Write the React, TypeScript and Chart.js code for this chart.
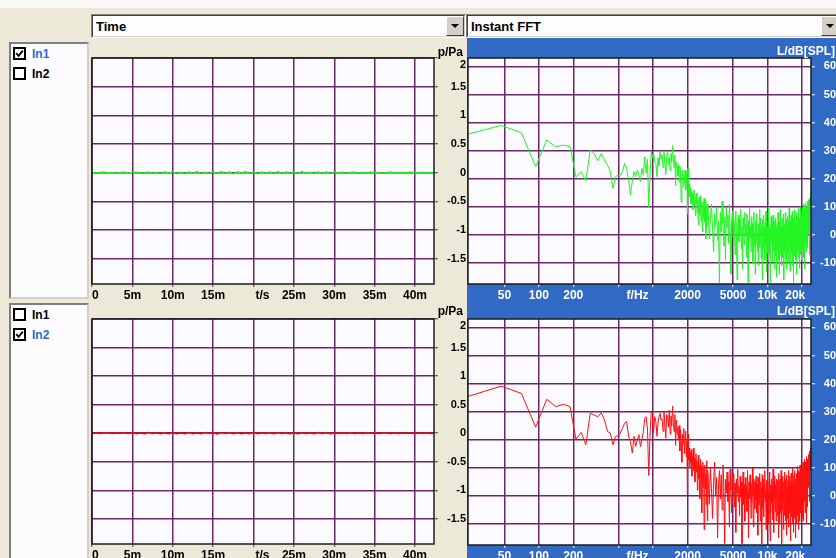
import React, { useEffect, useRef } from 'react';
import { Chart, registerables } from 'chart.js';

Chart.register(...registerables);

// ---------------- data ----------------
const TIME_STEP_S = 0.0005;
const IN1_TIME_PA = [
  0.004, -0.006, 0.003, 0.008, -0.002, 0.005, -0.007, 0.002, 0.006, -0.004,
  0.003, 0.007, -0.005, 0.001, 0.009, -0.008, 0.004, -0.012, 0.011, -0.006,
  0.014, -0.013, 0.009, -0.015, 0.012, -0.01, 0.016, -0.011, 0.008, -0.014,
  0.013, -0.009, 0.015, -0.012, 0.01, -0.016, 0.011, -0.008, 0.014, -0.013,
  0.009, -0.015, 0.012, -0.01, 0.013, -0.011, 0.016, -0.009, 0.01, -0.014,
  0.012, -0.012, 0.015, -0.01, 0.009, -0.013, 0.011, -0.008, 0.014, -0.011,
  0.007, -0.005, 0.006, -0.009, 0.004, 0.008, -0.006, 0.003, -0.004, 0.007,
  -0.002, 0.005, -0.007, 0.002, 0.006, -0.003, 0.004, -0.005, 0.003, 0.006,
  -0.004, 0.002, 0.005, -0.003, 0.004, -0.002,
];
const IN2_TIME_PA = [
  -0.003, 0.005, -0.004, 0.007, 0.002, -0.006, 0.004, -0.002, 0.006, -0.005,
  0.008, -0.007, 0.005, -0.009, 0.01, -0.006, 0.007, -0.011, 0.009, -0.008,
  0.006, -0.01, 0.008, -0.007, 0.011, -0.009, 0.005, -0.008, 0.01, -0.006,
  0.009, -0.012, 0.007, -0.005, 0.01, -0.008, 0.006, -0.01, 0.008, -0.007,
  0.011, -0.009, 0.006, -0.005, 0.009, -0.011, 0.007, -0.006, 0.008, -0.01,
  0.005, -0.007, 0.009, -0.004, 0.006, -0.008, 0.01, -0.005, 0.007, -0.009,
  0.004, -0.006, 0.005, -0.003, 0.007, -0.005, 0.003, -0.004, 0.006, -0.002,
  0.004, -0.005, 0.002, 0.005, -0.003, 0.004, -0.006, 0.003, -0.002, 0.005,
  -0.004, 0.003, -0.002, 0.004, -0.003, 0.002,
];

const FFT_BIN_HZ = 23.4375;
const FFT_HIGH_FIRST_BIN = 129;
const FFT_HIGH_BIN_STEP = 3;

const IN1_FFT_LOW_DB = [
  35.8, 39.0, 36.4, 24.3, 33.8, 31.4, 32.0, 31.4, 20.7, 22.5,
  19.3, 30.2, 29.0, 26.4, 29.0, 26.7, 24.9, 22.5, 16.6, 20.7,
  21.3, 21.3, 22.5, 25.5, 23.7, 19.5, 14.2, 19.0, 22.5, 20.7,
  23.1, 21.3, 19.0, 23.7, 21.3, 27.8, 22.0, 27.0, 10.0, 20.7,
  29.6, 27.6, 29.0, 26.1, 25.5, 20.7, 27.5, 24.5, 29.5, 27.0,
  28.5, 24, 29.5, 26, 21.5, 28, 29.8, 25, 27.5, 23,
  29, 26, 31.8, 27, 24, 28.5, 17.5, 26, 24.5, 21,
  25, 19, 24.4, 22, 11.6, 20, 23, 17, 21.5, 18.5,
  23, 16, 20.5, 22.8, 7.5, 23.7, 15, 18, 13.5, 16.5,
  11, 15.5, 12, 14.8, 9, 13, 16, 10.5, 12.5, 6.8,
  14.5, 11, 15, 8, 12.5, 3.5, 10, 13.5, 7, 11,
  14, 5, 9.5, 12, 1, 8.5, 11.5, 6, 13, 4.5,
  9, 12.2, -1.4, 7, 10.5, 3, 8, 11,
];
const IN1_FFT_HIGH_DB = [
  9, -1.5, 6, 11, 2, -6, 7.5, 3, 10, -2,
  5, -17, 8, 1, 12, 4, -4, 6.5, -9, 9.5,
  2.5, 7, -3, 11, 0.5, -14, 5, 8.5,
  -1, 6, 3.5, -7, 8.5, 1, -16, 4.5, 7, -2.5,
  5.5, 0, 9, -5, 3, -12, 6, 2, -3.5, 8,
  -0.5, 4, -8, 7.5, 1.5, -17, 5, -2, 9.5, 0.5,
  3, -6, 6.5, -1.5, 4, -10, 2.5, 8, -4, 1, -14,
  5, -3, 2, 7.5, -6, 0.5, -11, 4, -1, 9,
  -4.5, 1.5, 6, -8, 3, -2, -16, 5.5, 0, -5,
  7, -1, 2.5, -9, 4.5, -3.5, 8.5, -0.5, -13, 3,
  1, -6.5, 5, -2.5, 10, -7, 0.5, 3.5, -17, 2,
  -4, 6.5, -1.5, 1, -9.5, 4, -3, 7, -6, 0,
  3, -12, 5, -2, 1.5, -7.5, 6, -1, -15, 2.5,
  -3, 4, -6, 1, 8, -9, -1.5, 3.5, -14, 0.5,
  5, -4, 2, -7, 9, -2, -0.5, -11, 3, -5.5,
  6, -1, -8, 2.5, -3, 7.5, -16, 0, 4, -6,
  1.5, -2.5, 8, -9, 3, -4.5, 0.5, 5.5, -12, -1,
  2, -7, 6.5, -3.5, 1, -10, 4.5, -0.5, 9.5, -5,
  -2, 3, -13, 5, -1.5, 0.5, -8, 7, -3, 2,
  -6.5, 4, -0.5, 8.5, -11, 1.5, -4, 6, -2, -17,
  3.5, -1, 5, -7.5, 2, 9, -3, 0, -9, 4,
  -2.5, 6.5, 1, -5, 8, -14, 3, -1.5, 5.5, -6,
  2.5, 7, -3.5, 0.5, 9.5, -8, 4, -2, 6, -12,
  1, 5.5, -4, 8, 0, -7, 3, 10, -2.5, 4.5,
  -9, 6, 1.5, 8.5, -5,
  3, 9.5, -4, 6, 1, 11, -8, 5, 2.5, 8,
  -2, 7, 10.5, 0, 4.5, -12, 9, 3, 6.5, -3,
  11.5, 5, 1.5, 8, -6, 10, 4, 7.5, -1, 12,
  6, 2, 9.5, -4.5, 11, 5.5, 8, 0.5, 12.5, 7,
  3.5, 10, -7, 9, 13, 6, 11, 2, 12, 8.5,
  14, 9, 15.5, 11, 16,
];

const IN2_FFT_LOW_DB = [
  35.3, 39.1, 36.5, 24.5, 34.4, 31.8, 32.6, 31.8, 20.2, 22.6,
  18.2, 29.4, 28.8, 28.2, 29.6, 27.0, 22.9, 22.4, 18.2, 21.2,
  21.4, 22.4, 24.1, 25.9, 26.5, 21.2, 19.4, 15.3, 21.2, 17.6,
  20.0, 21.8, 17.6, 20.0, 22.9, 27.6, 28.2, 24.1, 7.3, 21.2,
  30.0, 29.4, 22.4, 28.2, 26.5, 21.2, 25.9, 28.2, 29.4, 27.0,
  27.5, 23, 30, 25.5, 20.5, 29, 28, 24.5, 30.5, 22,
  28.5, 25, 32, 26, 23, 29, 18, 27, 22, 24.5,
  20, 25, 16, 23.5, 19, 12, 22, 18.5, 24, 15,
  21, 23, 14, 19.5, 1, 22, 13, 17, 10, 15.5,
  12, 16.5, 7, 14, 11, 17, 9, 13.5, 5, 12,
  15, 8.5, 12.5, 2, 10, 14.5, 6, 11, -1, 9,
  13, 4, 10.5, -6, 8, 12, 3, 9.5, -12, 6,
  11, 2.5, 8, -3, 12.5, 5, -9, 9,
];
const IN2_FFT_HIGH_DB = [
  7, -3, 10, 2.5, -8, 5, 12, 0, 6.5, -15,
  4, 9, -1, 7.5, -5, 11, 3, -17, 6, 1,
  8.5, -2, 5, -11, 9.5, 2, -6, 7,
  0.5, 8, -4, 4.5, -13, 6, 1, 9.5, -2, 3.5,
  -7, 7, -0.5, 5, -17, 2, 8.5, -3, 4, -9,
  6.5, 0, 3, -5.5, 9, 1.5, -15, 5, -1, 7.5,
  2, -8, 4.5, -2.5, 10, 0, -11, 6, 3, -4.5, 5,
  -1, 7, 2.5, -6, 4, -14, 6.5, 0.5, -3, 8,
  1, -9, 5, -1.5, 3, -17, 7.5, -4, 2, 6,
  -7.5, 4, -0.5, 9, -2, 1.5, -12, 5.5, -5, 3,
  0, 7, -3.5, 2, -10, 5, 8.5, -1, -16, 4,
  -6, 1, 6, -2.5, 3.5, -8.5, 0.5, 9.5, -4, 2,
  -13, 5, -1, 7, -5.5, 1.5, 4, -9, 6, -0.5,
  3, -7, 5.5, -2, 0.5, -15, 4, 8, -4, 1.5,
  -10, 6, -1, 3.5, -6, 9, -3, 2, -17, 4.5,
  0, -5, 7, -2.5, 1, -12, 5, -0.5, 8.5, -7,
  2.5, -3, 6, -9, 0, 4, -1.5, -14, 7.5, 1,
  -4.5, 3, -8, 5.5, 0.5, 9, -2, -11, 4, -6,
  1.5, 7, -3.5, 2, -16, 5, -1, 8, -7.5, 3,
  0, -4, 6.5, -9.5, 2.5, 10, -2, 4.5, -13, 1,
  -5, 7.5, 0.5, 3, -8, 9, -1.5, 5, -3, -15,
  6, 1, -6.5, 8, 2, -10, 4, 10.5, -2.5, 6.5,
  -7, 3.5, 9, -1, 5, -12, 7, 1.5, -4, 8.5,
  2, -9, 11, 4, -3, 6, 9.5, -6, 3, 7,
  -1, 10, 5.5, -8, 8,
  4, 10, -3, 7, 12, 1, 8.5, -9, 6, 11,
  3, 9, -2, 13, 5.5, 8, -6, 10.5, 4, 12,
  7, -1, 11, 6, 14, 2, 9, -10, 12.5, 8,
  5, 13, 10, -4, 11.5, 7, 14.5, 3, 12, 9.5,
  6, 15, 10, -2, 13, 8, 16, 11, 14, 9,
  15.5, 12, 17, 13, 15,
];

// axis ticks / labels
const TIME_MIN_S = 0;
const TIME_MAX_S = 0.04235;
const TIME_TICKS = [0, 0.005, 0.01, 0.015, 0.02, 0.0211, 0.025, 0.03, 0.035, 0.04];
const TIME_TICK_LABELS = ['  0', '5m', '10m', '15m', '', 't/s', '25m', '30m', '35m', '40m'];
const PA_MIN = -1.94;
const PA_MAX = 2;
const PA_TICKS = [-1.5, -1, -0.5, 0, 0.5, 1, 1.5, 2];
const PA_TICK_LABELS: any[] = ['-1.5', '-1', '-0.5', '0', '0.5', '1', '1.5', ['', '2']];
const FREQ_MIN_HZ = 24;
const FREQ_MAX_HZ = 24000;
const FREQ_TICKS = [50, 100, 200, 500, 730, 1000, 2000, 5000, 10000, 20000];
const FREQ_TICK_LABELS = ['50', '100', '200', '', 'f/Hz', '', '2000', '5000', '10k', '20k    '];
const DB_MIN = -17.5;
const DB_MAX = 63;
const DB_TICKS = [-10, 0, 10, 20, 30, 40, 50, 60];
const DB_TICK_LABELS = ['-10', '0', '10', '20', '30', '40', '50', '60'];
const LABEL_ONLY_TICKS = [0.0211, 730];

// ---------------- styling ----------------
const FONT_FAMILY = '"Liberation Sans", Arial, sans-serif';
const BEIGE = '#ECE9D8';
const BLUE = '#316AC5';
const PLOT_BG = '#FAFAFF';
const GRID_COLOR = '#6A2668';
const FRAME_COLOR = '#1C1C1C';

const plotFramePlugin = {
  id: 'plotFrame',
  beforeDraw(chart: any) {
    const { ctx, chartArea: a } = chart;
    ctx.save();
    ctx.fillStyle = PLOT_BG;
    ctx.fillRect(a.left, a.top, a.right - a.left, a.bottom - a.top);
    ctx.restore();
  },
  afterDraw(chart: any) {
    const { ctx, chartArea: a } = chart;
    ctx.save();
    ctx.strokeStyle = FRAME_COLOR;
    ctx.lineWidth = 1.5;
    ctx.strokeRect(a.left, a.top, a.right - a.left, a.bottom - a.top);
    ctx.restore();
  },
};

const fixedTicks = (values: number[]) => (scale: any) => {
  scale.ticks = values.map((v) => ({ value: v }));
};
const fixSize = (prop: string, size: number) => (scale: any) => {
  scale[prop] = size;
  scale.paddingLeft = 0;
  scale.paddingRight = 0;
  scale.paddingTop = 0;
  scale.paddingBottom = 0;
};
const isLabelOnly = (c: any) => !!(c && c.tick && LABEL_ONLY_TICKS.includes(c.tick.value));

function axisFont(size: number) {
  return { family: FONT_FAMILY, size, weight: 'bold' as const };
}

function yAxis(min: number, max: number, ticks: number[], labels: any[], width: number, color: string, tickColor: string, padding: number) {
  return {
    type: 'linear',
    position: 'right',
    min,
    max,
    bounds: 'data',
    afterBuildTicks: fixedTicks(ticks),
    afterFit: fixSize('width', width),
    border: { display: false },
    grid: { color: GRID_COLOR, lineWidth: 1.5, drawTicks: true, tickLength: 4, tickWidth: 1, tickColor },
    ticks: {
      autoSkip: false,
      crossAlign: 'far',
      padding,
      color,
      font: axisFont(11),
      callback: (_v: any, i: number) => labels[i],
    },
  };
}

function makeTimeConfig(values: number[], color: string, padTop: number) {
  const points = values.map((v, i) => ({ x: i * TIME_STEP_S, y: v }));
  return {
    type: 'line',
    data: {
      datasets: [
        { data: points, borderColor: color, borderWidth: 1.5, pointRadius: 0, tension: 0, fill: false },
      ],
    },
    options: {
      animation: false,
      responsive: false,
      events: [],
      layout: { padding: { left: 12, top: padTop, right: 0, bottom: 0 } },
      plugins: { legend: { display: false }, tooltip: { enabled: false } },
      scales: {
        x: {
          type: 'linear',
          position: 'bottom',
          min: TIME_MIN_S,
          max: TIME_MAX_S,
          bounds: 'data',
          afterBuildTicks: fixedTicks(TIME_TICKS),
          afterFit: fixSize('height', 18),
          border: { display: false },
          grid: {
            color: (c: any) => (isLabelOnly(c) ? 'rgba(0,0,0,0)' : GRID_COLOR),
            lineWidth: 1.5,
            drawTicks: true,
            tickLength: 3,
            tickWidth: 1,
            tickColor: (c: any) => (isLabelOnly(c) ? 'rgba(0,0,0,0)' : '#444'),
          },
          ticks: {
            autoSkip: false,
            maxRotation: 0,
            minRotation: 0,
            padding: 1,
            color: '#000',
            font: axisFont(12),
            callback: (_v: any, i: number) => TIME_TICK_LABELS[i],
          },
        },
        y: yAxis(PA_MIN, PA_MAX, PA_TICKS, PA_TICK_LABELS, 32, '#000', '#444', 6),
      },
    },
    plugins: [plotFramePlugin],
  };
}

function fftPoints(low: number[], high: number[]) {
  const pts = low.map((db, i) => ({ x: (i + 1) * FFT_BIN_HZ, y: db }));
  high.forEach((db, k) => {
    pts.push({ x: (FFT_HIGH_FIRST_BIN + k * FFT_HIGH_BIN_STEP) * FFT_BIN_HZ, y: db });
  });
  return pts;
}

function makeFftConfig(low: number[], high: number[], color: string, padTop: number) {
  return {
    type: 'line',
    data: {
      datasets: [
        { data: fftPoints(low, high), borderColor: color, borderWidth: 1, pointRadius: 0, tension: 0, fill: false },
      ],
    },
    options: {
      animation: false,
      responsive: false,
      events: [],
      layout: { padding: { left: 1, top: padTop, right: 0, bottom: 0 } },
      plugins: { legend: { display: false }, tooltip: { enabled: false } },
      scales: {
        x: {
          type: 'logarithmic',
          position: 'bottom',
          min: FREQ_MIN_HZ,
          max: FREQ_MAX_HZ,
          bounds: 'data',
          afterBuildTicks: fixedTicks(FREQ_TICKS),
          afterFit: fixSize('height', 18),
          border: { display: false },
          grid: {
            color: (c: any) => (isLabelOnly(c) ? 'rgba(0,0,0,0)' : GRID_COLOR),
            lineWidth: 1.5,
            drawTicks: true,
            tickLength: 3,
            tickWidth: 1,
            tickColor: (c: any) => (isLabelOnly(c) ? 'rgba(0,0,0,0)' : '#FFFFFF'),
          },
          ticks: {
            autoSkip: false,
            maxRotation: 0,
            minRotation: 0,
            padding: 1,
            color: '#FFFFFF',
            font: axisFont(12),
            callback: (_v: any, i: number) => FREQ_TICK_LABELS[i],
          },
        },
        y: yAxis(DB_MIN, DB_MAX, DB_TICKS, DB_TICK_LABELS, 25, '#FFFFFF', '#FFFFFF', 5),
      },
    },
    plugins: [plotFramePlugin],
  };
}

function ChartCanvas({ make, left, top, width, height }: any) {
  const ref = useRef<HTMLCanvasElement | null>(null);
  useEffect(() => {
    const chart = new Chart(ref.current as any, make() as any);
    return () => chart.destroy();
  }, []);
  return (
    <canvas
      ref={ref}
      width={width}
      height={height}
      style={{ position: 'absolute', left, top, width, height }}
    />
  );
}

function Dropdown({ left, top, width, label }: any) {
  return (
    <div
      style={{
        position: 'absolute', left, top, width, height: 24, boxSizing: 'border-box',
        borderStyle: 'solid', borderWidth: 1, borderColor: '#808080 #FFFFFF #FFFFFF #808080',
        background: '#FDFDFF',
      }}
    >
      <div
        style={{
          position: 'absolute', left: 0, top: 0, right: 0, bottom: 0,
          borderStyle: 'solid', borderWidth: 1, borderColor: '#404040 #D4D0C8 #D4D0C8 #404040',
        }}
      />
      <span
        style={{
          position: 'absolute', left: 4, top: 5, fontSize: 13, lineHeight: '13px',
          fontWeight: 'bold', color: '#000', whiteSpace: 'nowrap',
        }}
      >
        {label}
      </span>
      <div
        style={{
          position: 'absolute', right: 1, top: 1, width: 18, height: 20, boxSizing: 'border-box',
          background: '#D4D0C8', borderStyle: 'solid', borderWidth: 1,
          borderColor: '#FFFFFF #404040 #404040 #FFFFFF',
        }}
      >
        <div
          style={{
            position: 'absolute', left: 4, top: 7, width: 0, height: 0,
            borderLeft: '4px solid transparent', borderRight: '4px solid transparent',
            borderTop: '4px solid #000',
          }}
        />
      </div>
    </div>
  );
}

function ListBox({ top, height, checkedIndex }: any) {
  return (
    <div
      style={{
        position: 'absolute', left: 9, top, width: 80, height, boxSizing: 'border-box',
        borderStyle: 'solid', borderWidth: 2, borderColor: '#808080 #D4D0C8 #D4D0C8 #808080',
        background: '#FCFCFE',
      }}
    >
      {['In1', 'In2'].map((name, i) => {
        const checked = i === checkedIndex;
        return (
          <div key={name} style={{ position: 'absolute', left: 2, top: 3 + i * 20, width: 60, height: 16 }}>
            <div
              style={{
                position: 'absolute', left: 0, top: 0, width: 13, height: 13, boxSizing: 'border-box',
                border: '2px solid #000', background: '#FFFFFF',
              }}
            >
              {checked && (
                <svg width="9" height="9" style={{ position: 'absolute', left: 0, top: 0 }}>
                  <path d="M1.2 4.2 L3.6 6.8 L7.8 1.6" stroke="#000" strokeWidth="1.8" fill="none" />
                </svg>
              )}
            </div>
            <span
              style={{
                position: 'absolute', left: 19, top: 1, fontSize: 12, lineHeight: '13px',
                fontWeight: 'bold', color: checked ? '#2F6BD6' : '#000',
              }}
            >
              {name}
            </span>
          </div>
        );
      })}
    </div>
  );
}

function AxisName({ text, right, top, color }: any) {
  return (
    <div
      style={{
        position: 'absolute', left: right - 120, width: 120, top, textAlign: 'right',
        fontSize: 12, lineHeight: '13px', fontWeight: 'bold', color, whiteSpace: 'nowrap',
      }}
    >
      {text}
    </div>
  );
}

export default function App() {
  useEffect(() => {
    document.body.style.margin = '0';
  }, []);
  return (
    <div
      style={{
        position: 'fixed', left: 0, top: 0, width: 836, height: 558, overflow: 'hidden',
        background: BEIGE, fontFamily: FONT_FAMILY,
      }}
    >
      <div style={{ position: 'absolute', left: 0, top: 0, width: 836, height: 8, background: '#F8F8F6' }} />
      <Dropdown left={91} top={14} width={375} label="Time" />
      <Dropdown left={466} top={14} width={375} label="Instant FFT" />
      <ListBox top={42} height={257} checkedIndex={0} />
      <ListBox top={303} height={260} checkedIndex={1} />

      <div style={{ position: 'absolute', left: 467, top: 38, width: 369, height: 520, background: BLUE }} />

      <ChartCanvas make={() => makeTimeConfig(IN1_TIME_PA, '#1EE81E', 18)} left={80} top={40} width={386} height={262} />
      <ChartCanvas make={() => makeTimeConfig(IN2_TIME_PA, '#FF0000', 18)} left={80} top={301} width={386} height={261} />
      <ChartCanvas make={() => makeFftConfig(IN1_FFT_LOW_DB, IN1_FFT_HIGH_DB, '#22F522', 20)} left={467} top={38} width={369} height={264} />
      <ChartCanvas make={() => makeFftConfig(IN2_FFT_LOW_DB, IN2_FFT_HIGH_DB, '#FF1010', 18)} left={467} top={301} width={369} height={262} />

      <AxisName text="p/Pa" right={463} top={46} color="#000" />
      <AxisName text="p/Pa" right={463} top={305} color="#000" />
      <AxisName text="L/dB[SPL]" right={835} top={45} color="#FFFFFF" />
      <AxisName text="L/dB[SPL]" right={835} top={305} color="#FFFFFF" />
    </div>
  );
}
